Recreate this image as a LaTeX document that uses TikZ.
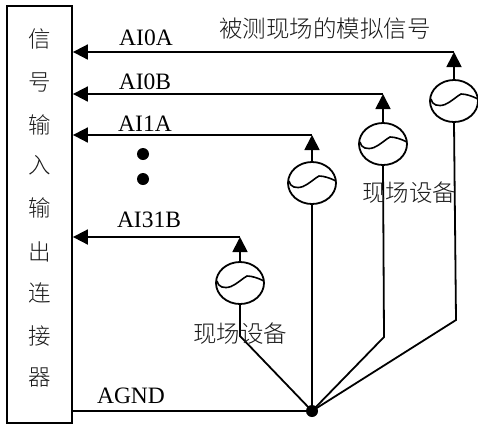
\documentclass[tikz,border=0pt]{standalone}
\usepackage{fontspec}
\setmainfont{Liberation Serif}
\newfontfamily\cjk[UprightFont=* Light]{Noto Sans CJK SC}
\usetikzlibrary{arrows.meta,shapes.geometric}
\tikzset{
  x=1bp,y=-1bp,
  wire/.style={line width=1.8bp,line join=miter},
  sig/.style={wire,-{Triangle[length=15bp,width=15bp]}},
  src/.style={draw,ellipse,line width=1.8bp,minimum width=48bp,minimum height=42bp,inner sep=0pt},
  txt/.style={inner sep=0pt,font=\fontsize{23.5bp}{24bp}\selectfont},
  zh/.style={inner sep=0pt,font=\fontsize{22.5bp}{24bp}\selectfont\cjk,text=black!90},
  zhb/.style={zh,font=\fontsize{23.5bp}{24bp}\selectfont\cjk},
  dot/.style={circle,fill=black,inner sep=0pt,minimum size=#1}
}
\newcommand{\wave}[1]{\draw[line width=1.6bp] ([shift={(-23bp,2bp)}]#1.center) .. controls ([shift={(-22bp,-4bp)}]#1.center) and ([shift={(-16bp,-6bp)}]#1.center) .. ([shift={(-9bp,-3.5bp)}]#1.center) .. controls ([shift={(-3bp,-1bp)}]#1.center) and ([shift={(3bp,5bp)}]#1.center) .. ([shift={(7bp,7bp)}]#1.center) .. controls ([shift={(12bp,7bp)}]#1.center) and ([shift={(18bp,5bp)}]#1.center) .. ([shift={(24bp,2bp)}]#1.center);}
\begin{document}
\begin{tikzpicture}
\useasboundingbox (0,0) rectangle (478,424);
\node[draw,line width=1.8bp,minimum width=65bp,minimum height=417bp,inner sep=0pt] (box) at (39.5,214.5) {};
\foreach \t/\y in {信/39,号/82,输/125,入/165,输/208,出/252,连/293,接/336,器/377}
  \node[zh] at (39.5,\y) {\t};
\node[src] (s1) at (454,101) {};
\node[src] (s2) at (383,144) {};
\node[src] (s3) at (312,183) {};
\node[src] (s4) at (240,283) {};
\wave{s1}\wave{s2}\wave{s3}\wave{s4}
\node[dot=12bp] (gnd) at (312,411) {};
\coordinate (c1) at (454,52);
\coordinate (c2) at (383,94);
\coordinate (c3) at (312,135);
\coordinate (c4) at (240,237);
\coordinate (t1) at (box.east |- c1);
\coordinate (t2) at (box.east |- c2);
\coordinate (t3) at (box.east |- c3);
\coordinate (t4) at (box.east |- c4);
\coordinate (g0) at (box.east |- gnd);
\coordinate (k1) at (456,320);
\coordinate (k2) at (384,337);
\coordinate (k4) at (240,336);
\draw[sig] (s1.north) -- (c1);
\draw[sig] (s2.north) -- (c2);
\draw[sig] (s3.north) -- (c3);
\draw[sig] (s4.north) -- (c4);
\draw[sig] (c1) -- (t1);
\draw[sig] (c2) -- (t2);
\draw[sig] (c3) -- (t3);
\draw[sig] (c4) -- (t4);
\draw[wire] (s1.south) -- (k1) -- (gnd.center);
\draw[wire] (s2.south) -- (k2) -- (gnd.center);
\draw[wire] (s3.south) -- (gnd.center);
\draw[wire] (s4.south) -- (k4) -- (gnd.center);
\draw[wire] (g0) -- (gnd.center);
\node[dot=12bp] (d1) at (143,154) {};
\node[dot=12bp] (d2) at (143,179) {};
\node[txt] (l1) at (146,38) {AI0A};
\node[txt] (l2) at (145,82) {AI0B};
\node[txt] (l3) at (145,124) {AI1A};
\node[txt] (l4) at (149,220) {AI31B};
\node[txt] (l5) at (131,396) {AGND};
\node[zhb] (t) at (325,29) {被测现场的模拟信号};
\node[zhb] (f1) at (409,193) {现场设备};
\node[zhb] (f2) at (240,334) {现场设备};
\end{tikzpicture}
\end{document}
